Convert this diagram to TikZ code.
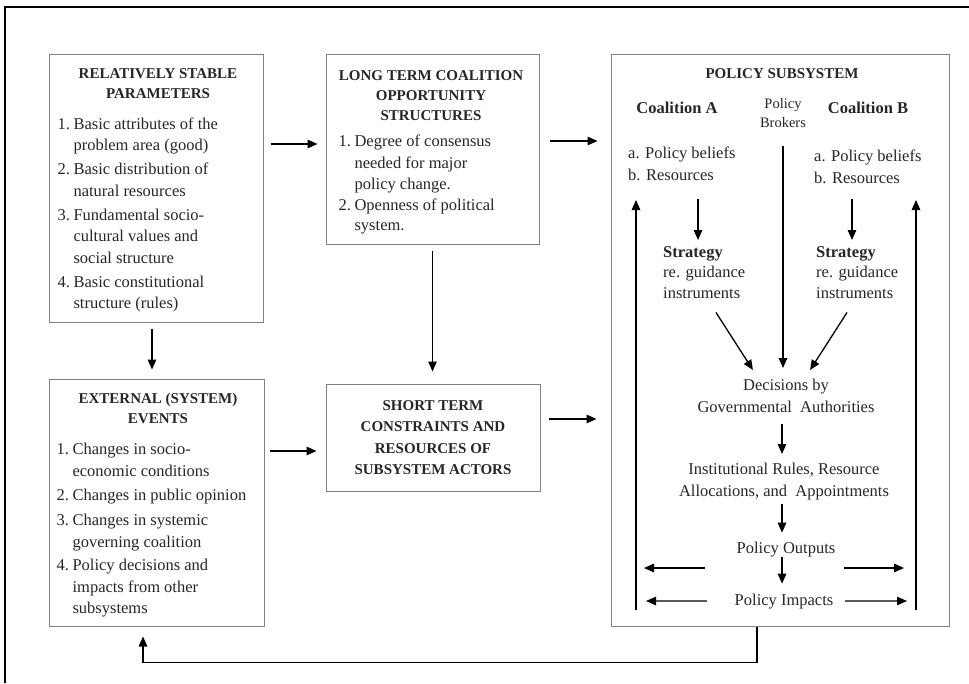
\documentclass[tikz,border=0pt]{standalone}
\usepackage{fontspec}
\setmainfont{Liberation Serif}
\usetikzlibrary{arrows.meta, positioning, calc}

\newcommand{\boxhead}{\fontsize{15}{20}\selectfont\bfseries}
\newcommand{\boxtext}{\fontsize{16.5}{21.5}\selectfont}
\newcommand{\brokertext}{\fontsize{14.5}{19}\selectfont}

\begin{document}
\begin{tikzpicture}[x=1pt, y=-1pt,
  panel/.style={draw=black!50, line width=1pt, inner sep=0pt},
  txt/.style={inner sep=0pt, text=black!85, font=\boxtext},
  flow/.style={-{Triangle[length=10pt,width=8.5pt]}, line width=1.3pt}]
\useasboundingbox (0,0) rectangle (969,683);

% Outer frame
\coordinate (frA) at (5,683);
\coordinate (frB) at (5,7);
\coordinate (frC) at (969,7);
\draw[line width=2.4pt] (frA) -- (frB) -- (frC);

% Panels
\node[panel, minimum width=214pt, minimum height=268pt] (stable) at (156,188) {};
\node[panel, minimum width=215pt, minimum height=247pt] (external) at (156.5,502.5) {};
\node[panel, minimum width=213pt, minimum height=190pt] (longterm) at (432.5,149) {};
\node[panel, minimum width=214pt, minimum height=107pt, align=center, text=black!85,
  font=\fontsize{15}{21.5}\selectfont\bfseries] (short) at (433,437.5)
  {SHORT TERM\\CONSTRAINTS AND\\RESOURCES OF\\SUBSYSTEM ACTORS};
\node[panel, minimum width=338pt, minimum height=572pt] (subsys) at (780,340) {};

% Relatively stable parameters
\node[txt, font=\boxhead, align=center, anchor=north] (stableHead)
  at ([xshift=2pt, yshift=-15.1pt]stable.north) {RELATIVELY STABLE\\PARAMETERS};
\node[txt, anchor=north west] (stableList) at ([xshift=9pt, yshift=-60.5pt]stable.north west) {%
  \begin{tabular}{@{}l@{\hspace{3.5pt}}l@{}}
  1. & Basic attributes of the\\
     & problem area (good)\\[2.5pt]
  2. & Basic distribution of\\
     & natural resources\\[2.5pt]
  3. & Fundamental socio-\\
     & cultural values and\\
     & social structure\\[2.5pt]
  4. & Basic constitutional\\
     & structure (rules)
  \end{tabular}};

% External events
\node[txt, font=\boxhead, align=center, anchor=north] (externalHead)
  at ([xshift=1.5pt, yshift=-14.2pt]external.north) {EXTERNAL (SYSTEM)\\EVENTS};
\node[txt, anchor=north west] (externalList) at ([xshift=8pt, yshift=-60.9pt]external.north west) {%
  \begin{tabular}{@{}l@{\hspace{3.5pt}}l@{}}
  1. & Changes in socio-\\
     & economic conditions\\[2.5pt]
  2. & Changes in public opinion\\[4pt]
  3. & Changes in systemic\\
     & governing coalition\\[2pt]
  4. & Policy decisions and\\
     & impacts from other\\
     & subsystems
  \end{tabular}};

% Long term coalition opportunity structures
\node[txt, font=\boxhead, align=center, anchor=north] (longtermHead)
  at ([xshift=-1.5pt, yshift=-16.6pt]longterm.north) {LONG TERM COALITION\\OPPORTUNITY\\STRUCTURES};
\node[txt, anchor=north west] (longtermList) at ([xshift=13pt, yshift=-77.9pt]longterm.north west) {%
  \begin{tabular}{@{}l@{\hspace{3.5pt}}l@{}}
  1. & Degree of consensus\\
     & needed for major\\
     & policy change.\\[-0.5pt]
  2. & Openness of political\\[-2pt]
     & system.
  \end{tabular}};

% Policy subsystem
\node[txt, font=\boxhead, anchor=base] (subtitle) at (782,78.5) {POLICY SUBSYSTEM};
\node[txt, font=\boxtext\bfseries, anchor=base] (coalA) at (677,113.5) {Coalition A};
\node[txt, font=\brokertext, align=center, anchor=north] (brokers) at (783,98) {Policy\\Brokers};
\node[txt, font=\boxtext\bfseries, anchor=base] (coalB) at (868,113.5) {Coalition B};

\node[txt, align=left, anchor=north west] (beliefA) at (628,147) {a. Policy beliefs\\b. Resources};
\node[txt, align=left, anchor=north west] (beliefB) at (814,150) {a. Policy beliefs\\b. Resources};
\node[txt, align=left, anchor=north west, font=\fontsize{16.5}{20.5}\selectfont] (stratA) at (663,246)
  {\textbf{Strategy}\\re. guidance\\instruments};
\node[txt, align=left, anchor=north west, font=\fontsize{16.5}{20.5}\selectfont] (stratB) at (816,246)
  {\textbf{Strategy}\\re. guidance\\instruments};

\node[txt, align=center, anchor=north, font=\fontsize{16.5}{22}\selectfont] (decide) at (786,379)
  {Decisions by\\Governmental\ \ Authorities};
\node[txt, align=center, anchor=north] (rules) at (784,463)
  {Institutional Rules, Resource\\Allocations, and\ \ Appointments};
\node[txt, anchor=base] (outputs) at (786,553) {Policy Outputs};
\node[txt, anchor=base] (impacts) at (784,605) {Policy Impacts};

% Arrows between panels
\coordinate (rowA) at (0,144);
\coordinate (rowB) at (0,141);
\coordinate (rowC) at (0,451);
\coordinate (rowD) at (0,419);
\draw[flow, shorten <=7pt, shorten >=8pt] (stable.east |- rowA) -- (longterm.west |- rowA);
\draw[flow, shorten <=10pt, shorten >=13pt] (longterm.east |- rowB) -- (subsys.west |- rowB);
\draw[flow, shorten <=5pt, shorten >=9pt] (external.east |- rowC) -- (short.west |- rowC);
\draw[flow, shorten <=8pt, shorten >=14pt] (short.east |- rowD) -- (subsys.west |- rowD);
\draw[flow, shorten <=6pt, shorten >=9pt] ([xshift=-4pt]stable.south) -- ([xshift=-4pt]stable.south |- external.north);
\draw[flow, shorten <=6pt, shorten >=12pt] (longterm.south) -- (longterm.south |- short.north);

% Feedback loop
\draw[flow, shorten >=10pt] ([xshift=-23pt]subsys.south) -- ++(0,36) -| ([xshift=-13.5pt]external.south);

% Inside the subsystem
\draw[flow, shorten <=18.5pt, shorten >=6pt] ([xshift=70pt]beliefA.south west) -- ([xshift=35pt]stratA.north west);
\draw[flow, shorten <=15.5pt, shorten >=6pt] ([xshift=38pt]beliefB.south west) -- ([xshift=36pt]stratB.north west);
\draw[flow, shorten <=18pt, shorten >=11pt] (brokers.south) -- (brokers.south |- decide.north);
\draw[flow, shorten <=16.6pt, shorten >=10.7pt] ([xshift=44pt]stratA.south west) -- ([xshift=-27.3pt]decide.north);
\draw[flow, shorten <=16.6pt, shorten >=10.7pt] ([xshift=40pt]stratB.south west) -- ([xshift=18.3pt]decide.north);
\draw[flow, shorten <=11pt, shorten >=9pt] ([xshift=-4pt]decide.south) -- ([xshift=-2pt]rules.north);
\draw[flow, shorten <=4.4pt, shorten >=8.7pt] ([xshift=-2pt]rules.south) -- ([xshift=-4pt]outputs.north);
\draw[flow, shorten <=0.5pt, shorten >=9.7pt] ([xshift=-4pt]outputs.south) -- ([xshift=-2pt]impacts.north);

% Side arrows
\coordinate (outLa) at (705,568);
\coordinate (outLb) at (644,568);
\coordinate (outRa) at (844,568);
\coordinate (outRb) at (904,568);
\coordinate (impL) at (646,601);
\coordinate (impR) at (907,601);
\draw[flow] (outLa) -- (outLb);
\draw[flow] (outRa) -- (outRb);
\draw[flow, shorten <=27.7pt] (impacts.west) -- (impL);
\draw[flow, shorten <=11.7pt] (impacts.east) -- (impR);

% Feedback inside the subsystem
\coordinate (upLa) at (636,610);
\coordinate (upLb) at (636,200);
\coordinate (upRa) at (916,610);
\coordinate (upRb) at (916,200);
\draw[flow] (upLa) -- (upLb);
\draw[flow] (upRa) -- (upRb);
\end{tikzpicture}
\end{document}
